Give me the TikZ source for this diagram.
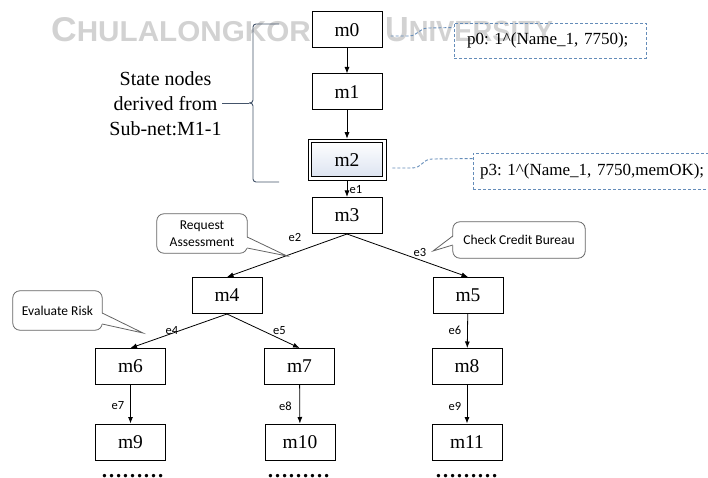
\documentclass[tikz,border=0pt]{standalone}
\usepackage{fontspec}
\usepackage{graphicx}
\setmainfont{Liberation Serif}
\newfontfamily\calib{Carlito}
\newfontfamily\wmfont{Liberation Sans}
\usetikzlibrary{arrows.meta,calc}

\definecolor{wmgray}{RGB}{210,210,210}
\definecolor{bracecol}{RGB}{68,84,106}
\definecolor{dashcol}{RGB}{100,140,185}
\definecolor{shadeblue}{RGB}{218,226,240}
\definecolor{callgray}{RGB}{100,100,100}

\begin{document}
\frenchspacing
\begin{tikzpicture}[x=1pt,y=-1pt,
  state/.style={draw=black, line width=1pt, fill=white,
    minimum width=70pt, minimum height=36pt, inner sep=0pt,
    font=\fontsize{19.5}{20}\selectfont},
  edge/.style={-{Latex[length=6.5pt,width=5pt]}, line width=0.8pt, black},
  elabel/.style={font=\calib\fontsize{12.5}{13}\selectfont, inner sep=0pt},
  calltext/.style={font=\calib\fontsize{13.5}{16.5}\selectfont, align=center, inner sep=0pt},
  callbox/.style={draw=callgray, line width=0.8pt, fill=white, rounded corners=7pt},
  callline/.style={draw=callgray, line width=0.8pt, line join=miter},
  pbox/.style={draw=dashcol, dash pattern=on 3pt off 2pt, line width=0.9pt,
    inner xsep=0pt, inner ysep=0pt, align=left,
    font=\fontsize{17}{18}\selectfont},
  plink/.style={draw=dashcol, dash pattern=on 3pt off 2pt, line width=0.9pt},
  brace/.style={draw=bracecol, line width=0.9pt},
  dotrow/.style={font=\fontsize{21}{21}\selectfont\bfseries, inner sep=0pt, anchor=base}
]
\useasboundingbox (0,0) rectangle (708,478);

% university name in the background
\node[anchor=base west, inner sep=0pt, text=wmgray] (wmA) at (51,42)
  {\resizebox{281pt}{24pt}{\wmfont\bfseries\fontsize{33.5}{34}\selectfont C\fontsize{28}{28}\selectfont HULALONGKORN}};
\node[anchor=base west, inner sep=0pt, text=wmgray] (wmB) at (385,42)
  {\resizebox{168pt}{24pt}{\wmfont\bfseries\fontsize{33.5}{34}\selectfont U\fontsize{28}{28}\selectfont NIVERSITY}};

% state nodes
\node[state] (m0) at (347,30) {m0};
\node[state] (m1) at (347,92) {m1};
\node[state, minimum width=74.5pt, minimum height=37.5pt, top color=white, bottom color=shadeblue,
      double=white, double distance=2.5pt] (m2) at (347,160) {m2};
\node[state] (m3) at (347,215.5) {m3};
\node[state] (m4) at (227,295.5) {m4};
\node[state] (m5) at (468,295.5) {m5};
\node[state] (m6) at (130.5,366.5) {m6};
\node[state] (m7) at (299.5,366.5) {m7};
\node[state] (m8) at (467,366.5) {m8};
\node[state] (m9) at (130.5,442) {m9};
\node[state] (m10) at (300,442) {m10};
\node[state] (m11) at (467,442) {m11};

% transitions
\draw[edge] (m0) -- (m1);
\draw[edge, shorten >=2pt] (m1) -- (m2);
\draw[edge, shorten <=2pt] (m2.south) -- (m3.north);
\draw[edge] (m3.south) -- (m4.north);
\draw[edge] (m3.south) -- (m5.north);
\draw[edge] (m4.south) -- (m6.north);
\draw[edge] (m4.south) -- (m7.north);
\draw[edge] (m5) -- (m8);
\draw[edge] (m6) -- (m9);
\draw[edge] (m7) -- (m10);
\draw[edge] (m8) -- (m11);

% transition labels
\node[elabel] (e1) at (356,190) {e1};
\node[elabel] (e2) at (295,237.5) {e2};
\node[elabel] (e3) at (420,252) {e3};
\node[elabel] (e4) at (172,330.5) {e4};
\node[elabel] (e5) at (279.5,330.5) {e5};
\node[elabel] (e6) at (455,330.5) {e6};
\node[elabel] (e7) at (118,406) {e7};
\node[elabel] (e8) at (285.5,406) {e8};
\node[elabel] (e9) at (455,406) {e9};

% continuation dots
\node[dotrow] (d9) at (132.5,477) {………};
\node[dotrow] (d10) at (298.5,477) {………};
\node[dotrow] (d11) at (466.5,477) {………};

% marking annotations
\node[pbox, minimum width=192pt, minimum height=35pt, inner xsep=13pt, text width=166pt] (p0) at (550,40.5)
  {p0: 1\textasciicircum(Name\_1, 7750);};
\node[pbox, minimum width=247pt, minimum height=36.5pt, inner xsep=7pt, text width=233pt] (p3) at (596.5,171.25)
  {p3: 1\textasciicircum(Name\_1, 7750,memOK);};
\draw[plink] ($(m0.east)+(8,6)$) -- ++(18,0) .. controls +(10,0) and +(-10,0) .. ++(20,-8)
  -- ($(p0.north west)+(0,5)$);
\draw[plink] ($(m2.east)+(7.5,8)$) -- ++(20,0) .. controls +(10,0) and +(-10,0) .. ++(20,-9)
  -- ($(p3.north west)+(0,6)$);

% brace grouping the sub-net states
\node[font=\fontsize{20}{25}\selectfont, align=center, inner sep=0pt] (statenote) at (165.5,103.5)
  {State nodes\\derived from\\Sub-net:M1-1};
\coordinate (btop) at (279,24);
\coordinate (bbot) at (279,182);
\coordinate (btip) at (249,103);
\draw[brace, rounded corners=3pt] (btop) -- (253,24) -- (253,103) -- (btip);
\draw[brace, rounded corners=3pt] (bbot) -- (253,182) -- (253,103) -- (btip);
\draw[brace] (btip) -- (statenote.east |- btip);

% callouts
\node[calltext, minimum width=90pt, minimum height=39pt] (req) at (202,233.5) {Request\\Assessment};
\coordinate (reqtip) at (287,256);
\path[callbox] (req.north west) rectangle (req.south east);
\node[calltext] at (req.center) {Request\\Assessment};
\fill[white] ($(req.east)+(-1.5,3.5)$) -- (reqtip) -- ($(req.east)+(-1.5,14.5)$) -- cycle;
\draw[callline] ($(req.east)+(0,3.5)$) -- (reqtip) -- ($(req.east)+(0,14.5)$);

\node[calltext, minimum width=132pt, minimum height=36pt] (ccb) at (519,240) {Check Credit Bureau};
\coordinate (ccbtip) at (433,251);
\path[callbox] (ccb.north west) rectangle (ccb.south east);
\node[calltext] at (ccb.center) {Check Credit Bureau};
\fill[white] ($(ccb.west)+(1.5,-4)$) -- (ccbtip) -- ($(ccb.west)+(1.5,5)$) -- cycle;
\draw[callline] ($(ccb.west)+(0,-4)$) -- (ccbtip) -- ($(ccb.west)+(0,5)$);

\node[calltext, minimum width=89pt, minimum height=39pt] (evr) at (57.5,310.5) {Evaluate Risk};
\coordinate (evrtip) at (143,333);
\path[callbox] (evr.north west) rectangle (evr.south east);
\node[calltext] at (evr.center) {Evaluate Risk};
\fill[white] ($(evr.east)+(-1.5,2.5)$) -- (evrtip) -- ($(evr.east)+(-1.5,13.5)$) -- cycle;
\draw[callline] ($(evr.east)+(0,2.5)$) -- (evrtip) -- ($(evr.east)+(0,13.5)$);
\end{tikzpicture}
\end{document}
